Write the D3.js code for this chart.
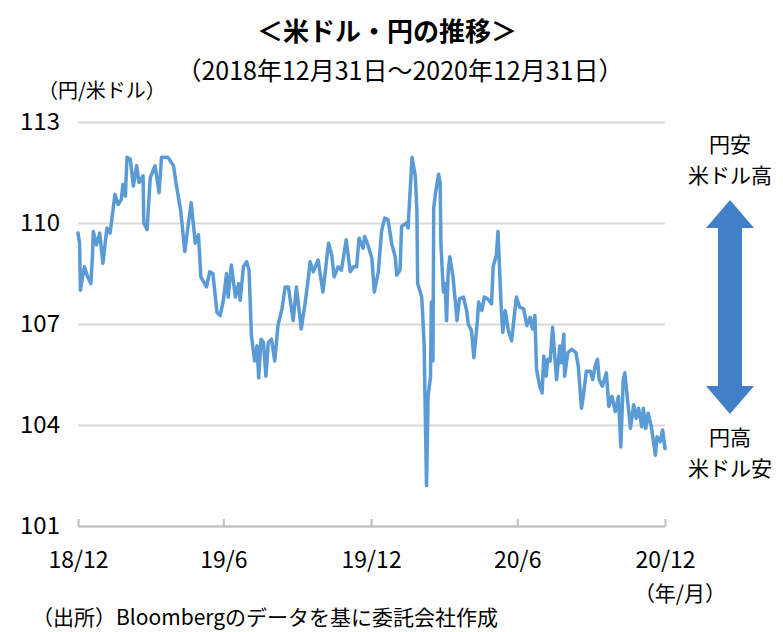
<!DOCTYPE html>
<meta charset="utf-8">
<script src="https://cdn.jsdelivr.net/npm/d3@7"></script>
<style>
  body { margin: 0; background: #fff; }
  text { font-family: "Noto Sans CJK JP", "Noto Sans", sans-serif; fill: #000; }
</style>
<body>
<svg id="chart" width="783" height="632"></svg>
<script>
// USD/JPY (date, yen per dollar)
var usdJpy = [
  ["2018-12-31",109.7],["2019-01-02",109.4],["2019-01-03",108.0],["2019-01-05",108.3],
  ["2019-01-08",108.7],["2019-01-12",108.4],["2019-01-16",108.2],["2019-01-18",109.0],
  ["2019-01-19",109.75],["2019-01-23",109.35],["2019-01-27",109.7],["2019-01-31",108.8],
  ["2019-02-05",109.85],["2019-02-09",109.7],["2019-02-15",110.85],["2019-02-19",110.55],
  ["2019-02-23",110.7],["2019-02-25",111.15],["2019-02-28",110.8],["2019-03-02",111.95],
  ["2019-03-06",111.9],["2019-03-10",111.1],["2019-03-14",111.7],["2019-03-17",111.2],
  ["2019-03-22",111.4],["2019-03-23",110.0],["2019-03-27",109.8],["2019-03-31",111.35],
  ["2019-04-06",111.7],["2019-04-11",110.9],["2019-04-14",111.95],["2019-04-22",111.95],
  ["2019-04-29",111.7],["2019-05-02",111.2],["2019-05-08",110.35],["2019-05-13",109.15],
  ["2019-05-17",109.9],["2019-05-21",110.6],["2019-05-26",109.4],["2019-05-30",109.65],
  ["2019-06-02",108.4],["2019-06-09",108.1],["2019-06-13",108.55],["2019-06-17",108.5],
  ["2019-06-22",107.35],["2019-06-26",107.25],["2019-06-30",107.7],["2019-07-04",108.5],
  ["2019-07-06",107.8],["2019-07-10",108.75],["2019-07-15",107.8],["2019-07-19",108.2],
  ["2019-07-21",107.7],["2019-07-25",108.7],["2019-07-29",108.85],["2019-08-01",108.6],
  ["2019-08-04",106.65],["2019-08-08",105.9],["2019-08-11",106.35],["2019-08-13",105.4],
  ["2019-08-16",106.55],["2019-08-19",106.45],["2019-08-22",105.45],["2019-08-25",106.45],
  ["2019-08-29",106.55],["2019-09-02",105.9],["2019-09-06",106.95],["2019-09-11",107.45],
  ["2019-09-15",108.1],["2019-09-19",108.1],["2019-09-25",107.1],["2019-09-29",108.1],
  ["2019-10-05",106.85],["2019-10-10",107.65],["2019-10-14",108.4],["2019-10-16",108.85],
  ["2019-10-20",108.55],["2019-10-26",108.9],["2019-11-01",107.95],["2019-11-08",109.4],
  ["2019-11-12",109.05],["2019-11-15",108.4],["2019-11-20",108.7],["2019-11-24",108.6],
  ["2019-11-30",109.5],["2019-12-05",108.55],["2019-12-09",108.7],["2019-12-13",108.7],
  ["2019-12-16",109.55],["2019-12-21",109.25],["2019-12-23",109.6],["2019-12-27",109.35],
  ["2020-01-01",108.95],["2020-01-04",107.95],["2020-01-09",108.55],["2020-01-13",109.75],
  ["2020-01-17",110.15],["2020-01-21",110.1],["2020-01-26",109.35],["2020-01-30",109.0],
  ["2020-02-01",108.45],["2020-02-05",108.6],["2020-02-07",109.9],["2020-02-13",110.0],
  ["2020-02-15",109.85],["2020-02-20",111.95],["2020-02-24",111.4],["2020-02-26",110.4],
  ["2020-02-27",108.2],["2020-03-03",107.8],["2020-03-04",107.4],["2020-03-06",106.4],
  ["2020-03-09",102.2],["2020-03-11",104.85],["2020-03-14",105.45],["2020-03-15",107.65],
  ["2020-03-17",105.9],["2020-03-18",110.45],["2020-03-20",110.85],["2020-03-24",111.45],
  ["2020-03-26",111.2],["2020-03-27",109.35],["2020-03-30",107.95],["2020-04-01",108.2],
  ["2020-04-03",107.1],["2020-04-05",108.55],["2020-04-07",109.0],["2020-04-11",108.4],
  ["2020-04-16",107.1],["2020-04-19",107.75],["2020-04-24",107.8],["2020-04-28",107.4],
  ["2020-04-30",107.0],["2020-05-04",106.8],["2020-05-07",106.0],["2020-05-11",107.0],
  ["2020-05-13",107.65],["2020-05-17",107.4],["2020-05-20",107.8],["2020-05-24",107.75],
  ["2020-05-29",107.6],["2020-05-31",108.7],["2020-06-04",109.05],["2020-06-06",109.75],
  ["2020-06-10",107.5],["2020-06-12",106.75],["2020-06-15",107.4],["2020-06-19",106.8],
  ["2020-06-23",106.5],["2020-06-27",107.4],["2020-06-29",107.8],["2020-07-03",107.5],
  ["2020-07-08",107.45],["2020-07-12",106.95],["2020-07-16",107.2],["2020-07-19",106.85],
  ["2020-07-22",107.25],["2020-07-24",105.65],["2020-07-28",105.15],["2020-07-31",104.95],
  ["2020-08-02",106.05],["2020-08-05",105.45],["2020-08-07",105.95],["2020-08-10",105.9],
  ["2020-08-13",106.9],["2020-08-16",105.95],["2020-08-18",105.35],["2020-08-22",106.35],
  ["2020-08-24",105.85],["2020-08-27",106.7],["2020-08-28",105.45],["2020-09-01",106.15],
  ["2020-09-06",106.25],["2020-09-11",106.15],["2020-09-14",105.75],["2020-09-18",104.5],
  ["2020-09-20",104.8],["2020-09-24",105.6],["2020-09-29",105.6],["2020-10-02",105.35],
  ["2020-10-05",105.75],["2020-10-08",105.95],["2020-10-10",105.35],["2020-10-14",105.15],
  ["2020-10-19",105.55],["2020-10-22",104.55],["2020-10-26",104.85],["2020-10-30",104.4],
  ["2020-11-03",104.85],["2020-11-06",103.35],["2020-11-09",105.35],["2020-11-11",105.55],
  ["2020-11-15",104.6],["2020-11-18",103.9],["2020-11-22",104.6],["2020-11-25",104.2],
  ["2020-11-28",104.5],["2020-12-02",103.95],["2020-12-04",104.5],["2020-12-07",103.9],
  ["2020-12-10",104.35],["2020-12-14",103.95],["2020-12-19",103.1],["2020-12-21",103.65],
  ["2020-12-25",103.5],["2020-12-28",103.85],["2020-12-31",103.3]
];

var yTicks = [101, 104, 107, 110, 113];
var xTickDates = ["2018-12-31", "2019-06-30", "2019-12-31", "2020-06-30", "2020-12-31"];
var xTickLabels = ["18/12", "19/6", "19/12", "20/6", "20/12"];

var parseDate = d3.timeParse("%Y-%m-%d");
var data = usdJpy.map(function(d) { return {date: parseDate(d[0]), rate: d[1]}; });

var svg = d3.select("#chart");
var plotLeft = 78, plotRight = 665, plotTop = 122, plotBottom = 526;

var x = d3.scaleTime()
    .domain([parseDate("2018-12-31"), parseDate("2020-12-31")])
    .range([plotLeft, plotRight]);

var y = d3.scaleLinear()
    .domain([101, 113])
    .range([plotBottom, plotTop]);

// gridlines + y labels
var yAxis = svg.append("g")
    .attr("transform", "translate(" + plotLeft + ",0)")
    .call(d3.axisLeft(y).tickValues(yTicks).tickSize(-(plotRight - plotLeft)).tickPadding(18).tickFormat(d3.format("d")));
yAxis.select(".domain").remove();
yAxis.selectAll(".tick line").attr("stroke", "#d9d9d9").attr("stroke-width", 2);
yAxis.selectAll(".tick text")
    .attr("font-size", 24)
    .attr("font-family", "'Noto Sans CJK JP', sans-serif")
    .attr("fill", "#000");

// x axis, ticks point up
var xAxis = svg.append("g")
    .attr("transform", "translate(0," + plotBottom + ")")
    .call(d3.axisBottom(x)
      .tickValues(xTickDates.map(parseDate))
      .tickSizeInner(-7).tickSizeOuter(0).tickPadding(26)
      .tickFormat(function(d, i) { return xTickLabels[i]; }));
xAxis.select(".domain").attr("stroke", "#bfbfbf").attr("stroke-width", 2);
xAxis.selectAll(".tick line").attr("stroke", "#bfbfbf").attr("stroke-width", 2);
xAxis.selectAll(".tick text")
    .attr("font-size", 23)
    .attr("font-family", "'Noto Sans CJK JP', sans-serif")
    .attr("fill", "#000");

var line = d3.line()
    .x(function(d) { return x(d.date); })
    .y(function(d) { return y(d.rate); });

svg.append("path")
    .datum(data)
    .attr("fill", "none")
    .attr("stroke", "#5b9bd5")
    .attr("stroke-width", 3.5)
    .attr("stroke-linejoin", "round")
    .attr("stroke-linecap", "round")
    .attr("d", line);

// titles and notes
svg.append("text")
    .attr("x", 387).attr("y", 41)
    .attr("text-anchor", "middle")
    .attr("font-size", 26).attr("font-weight", "bold")
    .text("＜米ドル・円の推移＞");

svg.append("text")
    .attr("x", 400).attr("y", 80)
    .attr("text-anchor", "middle")
    .attr("font-size", 25)
    .text("（2018年12月31日～2020年12月31日）");

svg.append("text")
    .attr("x", 38).attr("y", 98)
    .attr("font-size", 20)
    .text("（円/米ドル）");

svg.append("text")
    .attr("x", 680).attr("y", 601)
    .attr("text-anchor", "middle")
    .attr("font-size", 21)
    .text("（年/月）");

svg.append("text")
    .attr("x", 32).attr("y", 625)
    .attr("font-size", 21)
    .text("（出所）Bloombergのデータを基に委託会社作成");

// double arrow on the right
var ax = 730, aTop = 200, aBot = 414, headH = 28, headW = 24, shaftW = 12;
svg.append("path")
    .attr("fill", "#3f80c6")
    .attr("d", "M" + ax + "," + aTop +
      "L" + (ax + headW) + "," + (aTop + headH) +
      "L" + (ax + shaftW) + "," + (aTop + headH) +
      "L" + (ax + shaftW) + "," + (aBot - headH) +
      "L" + (ax + headW) + "," + (aBot - headH) +
      "L" + ax + "," + aBot +
      "L" + (ax - headW) + "," + (aBot - headH) +
      "L" + (ax - shaftW) + "," + (aBot - headH) +
      "L" + (ax - shaftW) + "," + (aTop + headH) +
      "L" + (ax - headW) + "," + (aTop + headH) + "Z");

var notes = [["円安", 152], ["米ドル高", 183], ["円高", 445], ["米ドル安", 476]];
svg.selectAll(".note")
    .data(notes)
    .enter().append("text")
    .attr("class", "note")
    .attr("x", ax).attr("y", function(d) { return d[1]; })
    .attr("text-anchor", "middle")
    .attr("font-size", 21)
    .text(function(d) { return d[0]; });
</script>
</body>
